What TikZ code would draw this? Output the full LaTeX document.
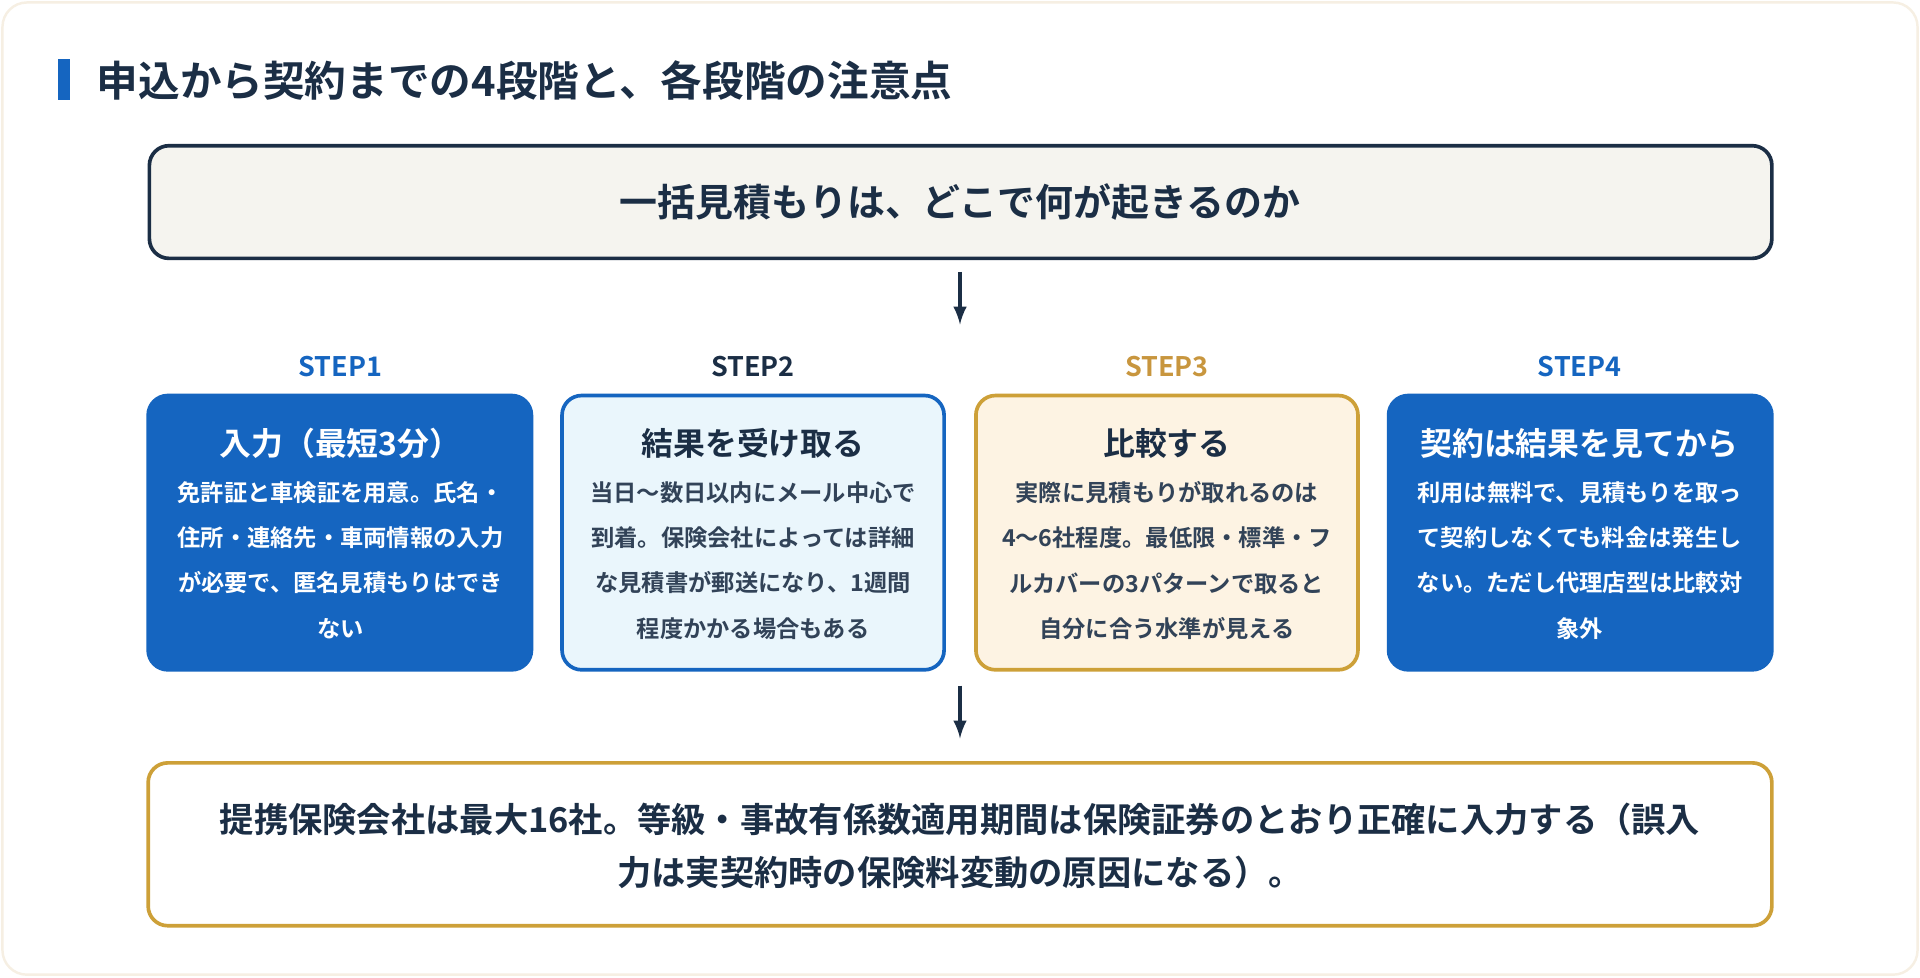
\documentclass[tikz,border=0pt]{standalone}
\usepackage{fontspec}
\setmainfont{Noto Sans CJK JP}[BoldFont={* Bold}]
\setsansfont{Noto Sans CJK JP}[BoldFont={* Bold}]
\begin{document}
\definecolor{navy}{HTML}{1B2E45}
\definecolor{bblue}{HTML}{1565C0}
\definecolor{gold}{HTML}{C8963E}
\definecolor{cream}{HTML}{F5F4EF}
\definecolor{lblue}{HTML}{EAF6FC}
\definecolor{lgold}{HTML}{FDF3E3}
\begin{tikzpicture}[x=0.5pt,y=-0.5pt,
  box/.style={rounded corners=8pt,line width=1.5pt},
  arr/.style={navy,line width=1.5pt,-{latex}},
  steplbl/.style={font=\fontsize{11}{13}\selectfont\bfseries},
  ttl/.style={font=\fontsize{13}{16}\selectfont\bfseries},
  body/.style={font=\fontsize{9.5}{18.5}\selectfont\bfseries,align=center}]
\useasboundingbox (0,0) rectangle (1568,798);
\draw[rounded corners=10pt,draw=cream!70!gold!40,fill=white,line width=1pt] (2,2) rectangle (1566,796);
\fill[bblue] (47,48) rectangle (57,82);
\node[anchor=west,font=\fontsize{17}{20}\selectfont\bfseries,text=navy] (title) at (72,66) {申込から契約までの4段階と、各段階の注意点};
\draw[box,fill=cream,draw=navy] (122,119) rectangle (1447,211);
\node[font=\fontsize{15.5}{18}\selectfont\bfseries,text=navy] (top) at (784,165) {一括見積もりは、どこで何が起きるのか};
\coordinate (a1) at (784,222); \coordinate (a2) at (784,265);
\draw[arr] (a1) -- (a2);
\node[steplbl,text=bblue] (s1) at (278,299) {STEP1};
\node[steplbl,text=navy] (s2) at (615,299) {STEP2};
\node[steplbl,text=gold] (s3) at (953,299) {STEP3};
\node[steplbl,text=bblue] (s4) at (1290,299) {STEP4};
\draw[box,fill=bblue,draw=bblue] (121,323) rectangle (434,547);
\draw[box,fill=lblue,draw=bblue] (459,323) rectangle (771,547);
\draw[box,fill=lgold,draw=gold!90!yellow] (797,323) rectangle (1109,547);
\draw[box,fill=bblue,draw=bblue] (1134,323) rectangle (1447,547);
\node[ttl,text=white] (t1) at (278,362) {入力（最短3分）};
\node[ttl,text=navy] (t2) at (615,362) {結果を受け取る};
\node[ttl,text=navy] (t3) at (953,362) {比較する};
\node[ttl,text=white] (t4) at (1290,362) {契約は結果を見てから};
\node[body,text=white,anchor=north] (b1) at (278,386) {免許証と車検証を用意。氏名・\\住所・連絡先・車両情報の入力\\が必要で、匿名見積もりはでき\\ない};
\node[body,text=navy!90,anchor=north] (b2) at (615,386) {当日〜数日以内にメール中心で\\到着。保険会社によっては詳細\\な見積書が郵送になり、1週間\\程度かかる場合もある};
\node[body,text=navy!90,anchor=north] (b3) at (953,386) {実際に見積もりが取れるのは\\4〜6社程度。最低限・標準・フ\\ルカバーの3パターンで取ると\\自分に合う水準が見える};
\node[body,text=white,anchor=north] (b4) at (1290,386) {利用は無料で、見積もりを取っ\\て契約しなくても料金は発生し\\ない。ただし代理店型は比較対\\象外};
\coordinate (c1) at (784,560); \coordinate (c2) at (784,603);
\draw[arr] (c1) -- (c2);
\draw[box,fill=white,draw=gold!90!yellow] (121,623) rectangle (1447,756);
\node[font=\fontsize{14}{21.5}\selectfont\bfseries,text=navy,align=center] (bot) at (784,691) {提携保険会社は最大16社。等級・事故有係数適用期間は保険証券のとおり正確に入力する（誤入\\力は実契約時の保険料変動の原因になる）。};
\end{tikzpicture}
\end{document}
